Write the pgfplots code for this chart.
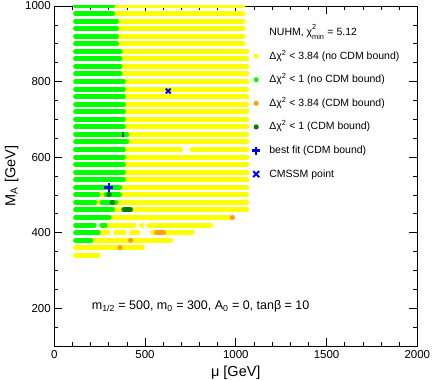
\documentclass[border=0pt]{standalone}
\usepackage{pgfplots}
\pgfplotsset{compat=1.18}
\usepackage{pgfplotstable}
\usepackage{fontspec}
\setmainfont{Liberation Sans}

\definecolor{cyel}{RGB}{255,255,0}
\definecolor{cgrn}{RGB}{0,255,0}
\definecolor{corg}{RGB}{255,160,20}
\definecolor{cdgr}{RGB}{0,128,0}
\definecolor{cdmk}{RGB}{0,70,0}
\definecolor{cblu}{RGB}{0,0,255}

% Delta chi^2 < 3.84, no CDM bound (row segments: mu from..to at fixed M_A)
\pgfplotstableread{
x y
118 1000
1041 1000
nan nan
118 980
1041 980
nan nan
118 960
1041 960
nan nan
118 940
1041 940
nan nan
118 920
1041 920
nan nan
118 900
1041 900
nan nan
118 880
1061 880
nan nan
118 860
1061 860
nan nan
118 840
1061 840
nan nan
118 820
1061 820
nan nan
118 800
1061 800
nan nan
118 780
1061 780
nan nan
118 760
1061 760
nan nan
118 740
1061 740
nan nan
118 720
1061 720
nan nan
118 700
1061 700
nan nan
118 680
1061 680
nan nan
118 660
1061 660
nan nan
118 640
1061 640
nan nan
118 620
697 620
nan nan
758 620
1061 620
nan nan
118 600
1061 600
nan nan
118 580
1061 580
nan nan
118 560
1061 560
nan nan
118 540
1061 540
nan nan
118 520
1061 520
nan nan
118 500
1061 500
nan nan
118 480
1061 480
nan nan
118 460
1061 460
nan nan
118 440
975 440
nan nan
118 420
220 420
nan nan
262 420
440 420
nan nan
481 420
483 420
nan nan
523 420
862 420
nan nan
118 400
297 400
nan nan
339 400
385 400
nan nan
425 400
462 400
nan nan
541 400
761 400
nan nan
118 380
642 380
nan nan
118 360
486 360
nan nan
118 340
242 340
}\yellowdata

% Delta chi^2 < 1, no CDM bound
\pgfplotstableread{
x y
118 1000
321 1000
nan nan
118 980
321 980
nan nan
118 960
343 960
nan nan
118 940
343 940
nan nan
118 920
343 920
nan nan
118 900
343 900
nan nan
118 880
363 880
nan nan
118 860
363 860
nan nan
118 840
363 840
nan nan
118 820
363 820
nan nan
118 800
381 800
nan nan
118 780
381 780
nan nan
118 760
381 760
nan nan
118 740
381 740
nan nan
118 720
381 720
nan nan
118 700
381 700
nan nan
118 680
381 680
nan nan
118 660
399 660
nan nan
118 640
399 640
nan nan
118 620
381 620
nan nan
118 600
381 600
nan nan
118 580
381 580
nan nan
118 560
381 560
nan nan
118 540
381 540
nan nan
118 520
361 520
nan nan
118 500
242 500
nan nan
284 500
359 500
nan nan
118 480
223 480
nan nan
262 480
339 480
nan nan
118 460
321 460
nan nan
118 440
302 440
nan nan
118 420
220 420
nan nan
262 420
280 420
nan nan
118 400
242 400
nan nan
118 380
201 380
}\greendata

% Delta chi^2 < 3.84, CDM bound
\pgfplotstableread{
x y
980 440
982 440
nan nan
563 400
602 400
nan nan
420 380
422 380
nan nan
361 360
363 360
}\orangedata

% Delta chi^2 < 1, CDM bound
\pgfplotstableread{
x y
300 500
302 500
nan nan
319 480
321 480
nan nan
383 460
420 460
}\dgreendata

\begin{document}
\begin{tikzpicture}
\begin{axis}[
  scale only axis, width=363pt, height=340pt,
  xmin=0, xmax=2000, ymin=100, ymax=1000,
  xtick={0,500,...,2000}, ytick={200,400,...,1000},
  minor xtick={0,100,...,2000}, minor ytick={100,150,...,1000},
  tick align=inside,
  major tick length=8pt, minor tick length=4pt,
  axis line style={line width=0.8pt},
  every tick/.style={black, line width=0.6pt},
  unbounded coords=jump,
  /pgf/number format/assume math mode=true,
  /pgf/number format/1000 sep={},
  scaled ticks=false,
  tick label style={font=\fontsize{11.5}{13}\selectfont},
  xticklabel style={yshift=-1pt},
  label style={font=\fontsize{14.5}{16}\selectfont},
  xlabel={μ [GeV]}, ylabel={M\textsubscript{A} [GeV]},
  xlabel style={at={(axis description cs:0.5,-0.080)}, anchor=center},
  ylabel style={at={(axis description cs:-0.1174,0.5)}, anchor=center},
  legend cell align=left,
  legend style={at={(rel axis cs:0.533,0.952)}, anchor=north west,
    draw=none, fill=none, font=\fontsize{10.5}{12}\selectfont,
    row sep=7.6pt, column sep=6pt,
    nodes={inner sep=2pt, text height=9pt, text depth=3pt}},
]
\addlegendimage{empty legend}
\addlegendentry{NUHM, χ\rlap{\raisebox{0.45ex}{\textsuperscript{2}}}\raisebox{-0.35ex}{\textsubscript{min}} = 5.12}

\addplot[cyel, line width=5pt, line cap=round, mark=none,
  legend image code/.code={\path[draw=none,fill=none] (-4pt,-4pt) rectangle (4pt,4pt); \path[draw=none,fill=cyel] (0,0) circle (2.6pt);}]
  table {\yellowdata};
\addlegendentry{Δχ\textsuperscript{2} < 3.84 (no CDM bound)}

\addplot[cgrn, line width=5pt, line cap=round, mark=none,
  legend image code/.code={\path[draw=none,fill=none] (-4pt,-4pt) rectangle (4pt,4pt); \path[draw=none,fill=cgrn] (0,0) circle (2.6pt);}]
  table {\greendata};
\addlegendentry{Δχ\textsuperscript{2} < 1 (no CDM bound)}

\addplot[corg, line width=5pt, line cap=round, mark=none,
  legend image code/.code={\path[draw=none,fill=none] (-4pt,-4pt) rectangle (4pt,4pt); \path[draw=none,fill=corg] (0,0) circle (2.6pt);}]
  table {\orangedata};
\addlegendentry{Δχ\textsuperscript{2} < 3.84 (CDM bound)}

\addplot[cdgr, line width=5pt, line cap=round, mark=none,
  legend image code/.code={\path[draw=none,fill=none] (-4pt,-4pt) rectangle (4pt,4pt); \path[draw=none,fill=cdgr] (0,0) circle (2.6pt);}]
  table {\dgreendata};
\addlegendentry{Δχ\textsuperscript{2} < 1 (CDM bound)}

\addplot[forget plot, only marks, mark=|, mark size=2.5pt, cdmk, mark options={line width=2pt}]
  coordinates {(380,660)};

\addplot[only marks, mark=+, mark size=4.5pt, cblu, mark options={line width=2.4pt},
  legend image code/.code={\path[draw=none,fill=none] (-4pt,-4pt) rectangle (4pt,4pt); \draw[cblu, line width=2.4pt] (-4pt,0)--(4pt,0) (0,-4pt)--(0,4pt);}]
  coordinates {(301,520)};
\addlegendentry{best fit (CDM bound)}

\addplot[only marks, mark=x, mark size=3.5pt, cblu, mark options={line width=2pt},
  legend image code/.code={\path[draw=none,fill=none] (-4pt,-4pt) rectangle (4pt,4pt); \draw[cblu, line width=2pt] (-3pt,-3pt)--(3pt,3pt) (-3pt,3pt)--(3pt,-3pt);}]
  coordinates {(628,775)};
\addlegendentry{CMSSM point}

\node[anchor=west, inner sep=0pt, font=\fontsize{12.5}{14}\selectfont] at (axis cs:206,205)
  {m\textsubscript{1/2} = 500, m\textsubscript{0} = 300, A\textsubscript{0} = 0, tanβ = 10};
\end{axis}
\pgfresetboundingbox
\useasboundingbox (-54.3pt,-34pt) rectangle (377.7pt,346pt);
\end{tikzpicture}
\end{document}
